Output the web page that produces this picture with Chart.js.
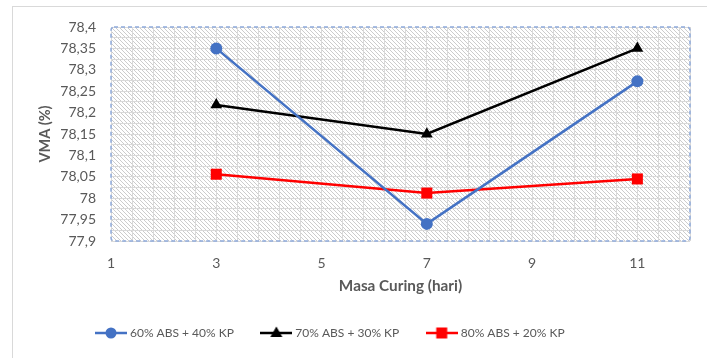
<!DOCTYPE html>
<html>
<head>
<meta charset="utf-8">
<script src="https://cdn.jsdelivr.net/npm/chart.js@4/dist/chart.umd.min.js"></script>
<style>
  html, body { margin: 0; padding: 0; background: #fff; }
  canvas { display: block; }
</style>
</head>
<body>
<canvas id="vma" width="707" height="358"></canvas>
<script>
// VMA vs curing time for three ABS/KP blends
const curingDays = [3, 7, 11]
const vmaAbs60 = [78.35, 77.94, 78.273]
const vmaAbs70 = [78.218, 78.15, 78.35]
const vmaAbs80 = [78.056, 78.012, 78.045]
const seriesNames = ["60% ABS + 40% KP", "70% ABS + 30% KP", "80% ABS + 20% KP"]
const xTickLabels = [1, 3, 5, 7, 9, 11]
const yTickLabels = ["77,9", "77,95", "78", "78,05", "78,1", "78,15", "78,2", "78,25", "78,3", "78,35", "78,4"]

const textColor = "#595959"
const fontFamily = "Lato, 'Noto Sans', sans-serif"

const toPoints = values => values.map((y, i) => ({x: curingDays[i], y: y}))
const yTickValue = label => parseFloat(label.replace(",", "."))

// diagonal hatch used as the plot area fill
function hatchPattern(ctx) {
  const tile = document.createElement("canvas")
  tile.width = 4
  tile.height = 4
  const t = tile.getContext("2d")
  t.fillStyle = "#ffffff"
  t.fillRect(0, 0, 4, 4)
  t.fillStyle = "#cccccc"
  for (let i = 0; i < 4; i++) t.fillRect(i, i, 1, 1)
  return ctx.createPattern(tile, "repeat")
}

// line + marker swatch for the legend
function legendIcon(color, marker) {
  const c = document.createElement("canvas")
  c.width = 32
  c.height = 14
  const g = c.getContext("2d")
  g.strokeStyle = color
  g.fillStyle = color
  g.lineWidth = 2.5
  g.beginPath()
  g.moveTo(0, 7)
  g.lineTo(32, 7)
  g.stroke()
  g.beginPath()
  if (marker === "circle") {
    g.arc(16, 7, 5.5, 0, Math.PI * 2)
  } else if (marker === "triangle") {
    g.moveTo(16, 0.5)
    g.lineTo(22, 11)
    g.lineTo(10, 11)
    g.closePath()
  } else {
    g.rect(10.5, 1.5, 11, 11)
  }
  g.fill()
  return c
}

const series = [
  {data: vmaAbs60, color: "#4472c4", marker: "circle", radius: 6},
  {data: vmaAbs70, color: "#000000", marker: "triangle", radius: 6.8},
  {data: vmaAbs80, color: "#ff0000", marker: "rect", radius: 7.8}
]
const legendIcons = series.map(s => legendIcon(s.color, s.marker))

const plotDecor = {
  id: "plotDecor",
  beforeDraw(chart) {
    const {ctx, chartArea: a} = chart
    ctx.save()
    ctx.strokeStyle = "#d9d9d9"
    ctx.lineWidth = 1
    ctx.strokeRect(12.5, 6.5, 800, 400)
    ctx.fillStyle = hatchPattern(ctx)
    ctx.fillRect(a.left, a.top, a.right - a.left, a.bottom - a.top)
    ctx.restore()
  },
  beforeDatasetsDraw(chart) {
    const {ctx, chartArea: a} = chart
    ctx.save()
    ctx.strokeStyle = "#8faadc"
    ctx.lineWidth = 1.5
    ctx.setLineDash([4, 3])
    ctx.beginPath()
    ctx.roundRect(a.left, a.top, a.right - a.left, a.bottom - a.top, 3)
    ctx.stroke()
    ctx.restore()
  },
  // single-row legend under the axis title, one swatch + label per dataset
  afterDraw(chart) {
    const {ctx} = chart
    const y = 333
    let x = 95
    ctx.save()
    ctx.font = "12px " + fontFamily
    ctx.fillStyle = textColor
    ctx.textBaseline = "middle"
    chart.data.datasets.forEach((ds, i) => {
      ctx.drawImage(legendIcons[i], x, y - 7)
      ctx.fillText(ds.label, x + 35, y)
      x += 35 + ctx.measureText(ds.label).width + 26.5
    })
    ctx.restore()
  }
}

new Chart(document.getElementById("vma"), {
  type: "line",
  data: {
    datasets: series.map((s, i) => ({
      label: seriesNames[i],
      data: toPoints(s.data),
      borderColor: s.color,
      backgroundColor: s.color,
      borderWidth: 2.5,
      pointStyle: s.marker,
      pointRadius: s.radius,
      pointHoverRadius: s.radius,
      pointBorderWidth: 0,
      tension: 0
    }))
  },
  options: {
    responsive: false,
    animation: false,
    devicePixelRatio: 1,
    layout: { padding: { left: 33, right: 17, top: 27, bottom: 59 } },
    scales: {
      x: {
        type: "linear",
        min: 1,
        max: 12,
        afterBuildTicks: scale => {
          const ticks = []
          for (let i = 0; i <= 27; i++) ticks.push({value: +(1 + i * 0.4).toFixed(2)})
          ticks.push({value: 12})
          scale.ticks = ticks
        },
        afterFit: scale => { scale.height = 58 },
        ticks: {
          autoSkip: false,
          maxRotation: 0,
          padding: 14,
          color: textColor,
          font: { family: fontFamily, size: 14 },
          callback: value => xTickLabels.includes(value) ? String(value) : ""
        },
        grid: { color: "#d9d9d9", drawTicks: false },
        border: { display: false },
        title: {
          display: true,
          text: "Masa Curing (hari)",
          color: textColor,
          font: { family: fontFamily, size: 15.3, weight: "bold" }
        }
      },
      y: {
        min: 77.9,
        max: 78.4,
        afterBuildTicks: scale => {
          const ticks = []
          for (let i = 0; i <= 20; i++) ticks.push({value: +(77.9 + i * 0.025).toFixed(3)})
          scale.ticks = ticks
        },
        afterFit: scale => { scale.width = 78 },
        ticks: {
          autoSkip: false,
          padding: 15,
          color: textColor,
          font: { family: fontFamily, size: 14 },
          callback: value => {
            const label = yTickLabels.find(l => Math.abs(yTickValue(l) - value) < 1e-6)
            return label || ""
          }
        },
        grid: { color: "#d9d9d9", drawTicks: false },
        border: { display: false },
        title: {
          display: true,
          text: "VMA (%)",
          color: textColor,
          font: { family: fontFamily, size: 14.5, weight: "bold" }
        }
      }
    },
    plugins: {
      legend: { display: false },
      tooltip: { enabled: false }
    }
  },
  plugins: [plotDecor]
})
</script>
</body>
</html>
